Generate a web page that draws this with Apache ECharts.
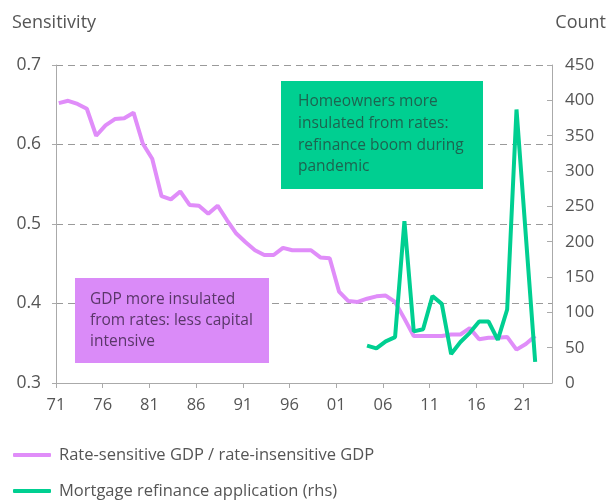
<!DOCTYPE html>
<html>
<head>
<meta charset="utf-8">
<script src="https://cdn.jsdelivr.net/npm/echarts@6/dist/echarts.min.js"></script>
<style>
html,body{margin:0;padding:0;background:#fff;}
#chart{width:608px;height:500px;}
</style>
</head>
<body>
<div id="chart"></div>
<script>
// ---- data ----
const startYear = 1971;
const xTickLabels = ['71','76','81','86','91','96','01','06','11','16','21'];
const gdpYears = [1971,1972,1973,1974,1975,1976,1977,1978,1979,1980,
  1981,1982,1983,1984,1985,1986,1987,1988,1989,1990,
  1991,1992,1993,1994,1995,1996,1997,1998,1999,2000,
  2001,2002,2003,2004,2005,2006,2007,2008,2009,2010,
  2011,2012,2013,2014,2015,2016,2017,2018,2019,2020,2021,2022];
const gdpRatio = [0.652,0.655,0.651,0.645,0.611,0.624,0.632,0.633,0.640,0.601,
  0.582,0.535,0.531,0.541,0.524,0.523,0.513,0.523,0.505,0.488,
  0.477,0.467,0.461,0.461,0.470,0.467,0.467,0.467,0.458,0.457,
  0.415,0.403,0.402,0.406,0.409,0.410,0.402,0.381,0.359,0.359,
  0.359,0.359,0.361,0.361,0.369,0.355,0.357,0.357,0.358,0.342,0.349,0.359];
const refiYears = [2004,2005,2006,2007,2008,2009,2010,2011,2012,2013,
  2014,2015,2016,2017,2018,2019,2020,2022];
const refiCount = [53,49,59,65,229,73,76,123,112,41,
  58,71,87,87,61,104,387,30];
const seriesNames = ['Rate-sensitive GDP / rate-insensitive GDP','Mortgage refinance application (rhs)'];
const annotations = [
  'Homeowners more\ninsulated from rates:\nrefinance boom during\npandemic',
  'GDP more insulated\nfrom rates: less capital\nintensive'
];

// ---- build ----
const YEAR_POS = 0.3; // annual observations plotted within the year
const gdpData = gdpYears.map((y,i)=>[y-startYear+YEAR_POS, gdpRatio[i]]);
const refiData = refiYears.map((y,i)=>[y-startYear+YEAR_POS, refiCount[i]]);

const PURPLE = '#e08df9';
const PURPLE_BOX = '#da8bf8';
const GREEN = '#00cf91';
const AXIS = '#aaaaaa';
const LABEL = '#555555';
const FONT = '"Open Sans", sans-serif';

const legendBase = {
  orient:'vertical', left:13, padding:0,
  icon:'roundRect', itemWidth:38, itemHeight:4,
  textStyle:{color:LABEL,fontSize:16.5,lineHeight:18,fontFamily:FONT,padding:[0,0,0,3]}
};

const chart = echarts.init(document.getElementById('chart'));
chart.setOption({
  animation:false,
  textStyle:{fontFamily:FONT},
  grid:{left:56,right:56,top:65,bottom:117},
  xAxis:{
    type:'value', min:0, max:53.1, interval:5,
    axisLine:{lineStyle:{color:AXIS,width:1}},
    axisTick:{show:true,length:5,lineStyle:{color:AXIS}},
    splitLine:{show:false},
    axisLabel:{
      color:LABEL, fontSize:16.5, margin:14, fontFamily:FONT,
      showMaxLabel:false,
      formatter:v=>{ const k=Math.round(v/5); return Math.abs(v-k*5)<1e-6 && xTickLabels[k]!==undefined ? xTickLabels[k] : ''; }
    }
  },
  yAxis:[{
    type:'value', min:0.3, max:0.7, interval:0.1, position:'left',
    axisLine:{show:true,lineStyle:{color:AXIS}},
    axisTick:{show:true,length:4,lineStyle:{color:AXIS}},
    splitLine:{show:true,lineStyle:{color:'#9a9a9a',type:[7,5],width:1}},
    axisLabel:{color:LABEL,fontSize:17.5,margin:15,fontFamily:FONT,formatter:v=>v.toFixed(1)}
  },{
    type:'value', min:0, max:450, interval:50, position:'right',
    axisLine:{show:true,lineStyle:{color:AXIS}},
    axisTick:{show:true,inside:true,length:5,lineStyle:{color:AXIS}},
    splitLine:{show:false},
    axisLabel:{color:LABEL,fontSize:17,margin:13,fontFamily:FONT}
  }],
  legend:[
    Object.assign({}, legendBase, {top:446, data:[{name:seriesNames[0],itemStyle:{color:PURPLE}}]}),
    Object.assign({}, legendBase, {top:482, data:[{name:seriesNames[1],itemStyle:{color:GREEN}}]})
  ],
  series:[{
    name:seriesNames[0], type:'line', yAxisIndex:0, data:gdpData,
    showSymbol:false, symbol:'none', lineStyle:{color:PURPLE,width:4}, itemStyle:{color:PURPLE}, z:2
  },{
    name:seriesNames[1], type:'line', yAxisIndex:1, data:refiData,
    showSymbol:false, symbol:'none', lineStyle:{color:GREEN,width:4}, itemStyle:{color:GREEN}, z:3
  }],
  graphic:[
    {type:'text', left:12, top:14, style:{text:'Sensitivity', fill:LABEL, font:'18px '+FONT}},
    {type:'text', right:2, top:14, style:{text:'Count', fill:LABEL, font:'18px '+FONT}},
    {type:'rect', shape:{x:281,y:81,width:202,height:108}, style:{fill:GREEN}, z:10},
    {type:'text', x:298, y:91, z:11, style:{text:annotations[0], fill:'#1d6450', font:'15.5px '+FONT, lineHeight:21.7}},
    {type:'rect', shape:{x:75,y:278,width:194,height:85}, style:{fill:PURPLE_BOX}, z:10},
    {type:'text', x:90, y:289, z:11, style:{text:annotations[1], fill:'#5a3669', font:'15.5px '+FONT, lineHeight:21}}
  ]
});
</script>
</body>
</html>
